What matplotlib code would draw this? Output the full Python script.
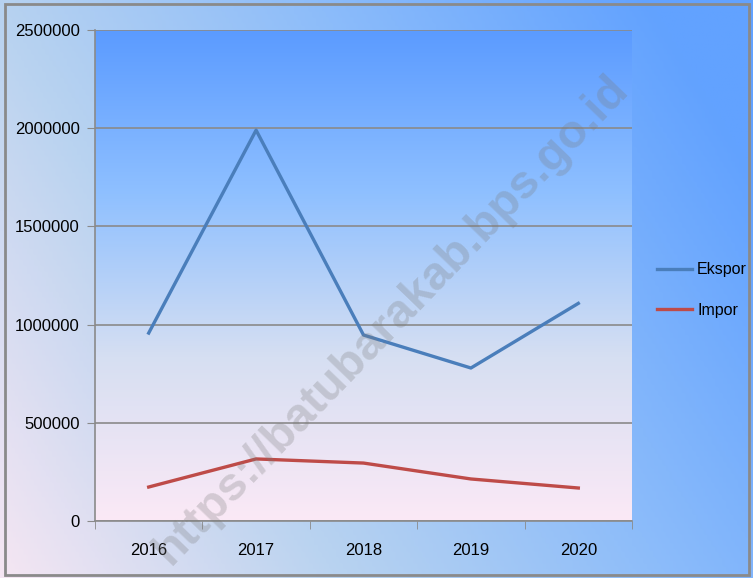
import numpy as np
import matplotlib
matplotlib.use("Agg")
import matplotlib.pyplot as plt
from matplotlib.colors import LinearSegmentedColormap
from matplotlib.patches import Rectangle

tahun = ["2016", "2017", "2018", "2019", "2020"]
ekspor = [957000, 1990000, 947000, 779000, 1108000]
impor = [173000, 316000, 295000, 214000, 168000]
yticks = [0, 500000, 1000000, 1500000, 2000000, 2500000]

plt.rcParams['font.family'] = ['Liberation Sans', 'DejaVu Sans']

fig = plt.figure(figsize=(7.53, 5.78), dpi=100)

# latar belakang gambar (gradien diagonal)
bg = fig.add_axes([0, 0, 1, 1], zorder=-10)
gx, gy = np.meshgrid(np.linspace(0, 1, 200), np.linspace(0, 1, 200))
t = np.clip(0.75 * gx + 0.35 * gy, 0, 1)
cm_bg = LinearSegmentedColormap.from_list("bg", ["#f5e6f3", "#b9d3f0", "#8cbcfa", "#62a2ff"])
bg.imshow(t, cmap=cm_bg, origin="lower", aspect="auto", extent=[0, 1, 0, 1])
bg.set_xlim(0, 1)
bg.set_ylim(0, 1)
bg.axis("off")
bg.add_patch(Rectangle((0.006, 0.005), 0.989, 0.988, fill=False,
                       edgecolor="#8a8a8a", linewidth=2, transform=bg.transAxes))

ax = fig.add_axes([95 / 753, 1 - 521 / 578, 537 / 753, 491 / 578])
ax.patch.set_alpha(0)
cm_plot = LinearSegmentedColormap.from_list("pl", ["#fbe9f6", "#d6dff2", "#8fc0ff", "#5b9bff"])
ax.imshow(np.linspace(0, 1, 256).reshape(-1, 1), cmap=cm_plot, origin="lower",
          aspect="auto", extent=[-0.5, 4.5, 0, 2500000], zorder=0)

x = np.arange(len(tahun))
ax.plot(x, ekspor, color="#4a7ebb", linewidth=2.4, label="Ekspor", zorder=3)
ax.plot(x, impor, color="#be4b48", linewidth=2.4, label="Impor", zorder=3)

ax.set_xlim(-0.5, 4.5)
ax.set_ylim(0, 2500000)
ax.set_yticks(yticks)
ax.set_yticklabels([str(v) for v in yticks])
ax.set_xticks(x)
ax.set_xticklabels(tahun)
ax.set_xticks(np.arange(-0.5, 5, 1), minor=True)
ax.tick_params(axis="x", which="major", length=0, pad=16, labelsize=12)
ax.tick_params(axis="x", which="minor", length=6, color="#8a8a8a", direction="out")
ax.tick_params(axis="y", length=6, color="#8a8a8a", labelsize=12, pad=5)
ax.yaxis.grid(True, color="#8a8a8a", linewidth=1.2, zorder=1)
ax.set_axisbelow(False)
for s in ["top", "right"]:
    ax.spines[s].set_visible(False)
for s in ["left", "bottom"]:
    ax.spines[s].set_color("#8a8a8a")
    ax.spines[s].set_linewidth(1.2)

leg = ax.legend(loc="center left", bbox_to_anchor=(1.047, 0.47), frameon=False,
                fontsize=11.5, handlelength=2.2, labelspacing=1.6, handletextpad=0.3,
                borderpad=0, borderaxespad=0)

# watermark
fig.text(0.52, 0.447, "https://batubarakab.bps.go.id", rotation=46, fontsize=34,
         fontweight="bold", color="#7a7a7a", alpha=0.28,
         ha="center", va="center", zorder=20)

fig.savefig("out.png", dpi=100)
